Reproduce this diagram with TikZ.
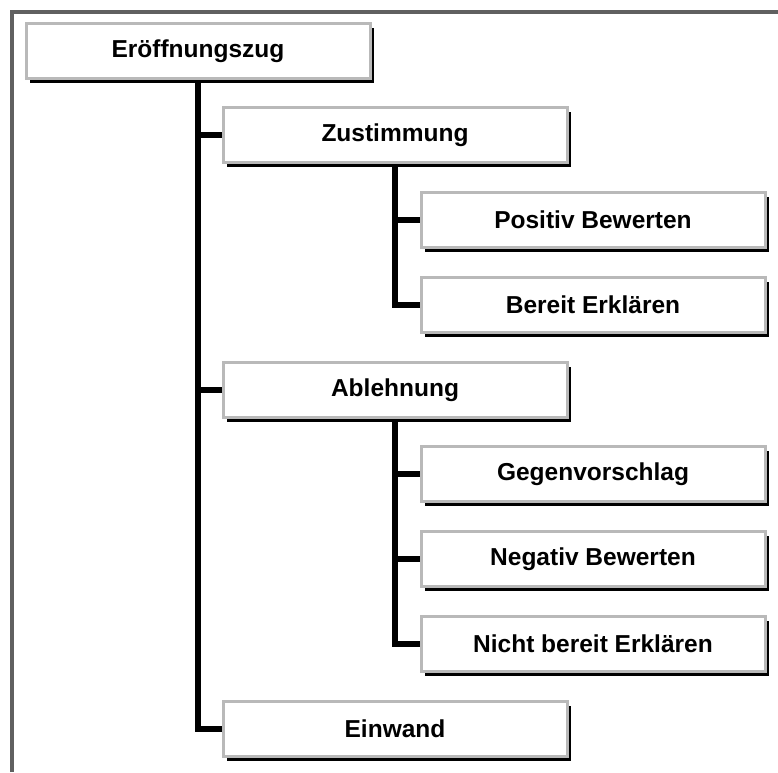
\documentclass[tikz,border=0pt]{standalone}
\usepackage{fontspec}
\setmainfont{Liberation Sans}
\usetikzlibrary{shadows}

\begin{document}
\begin{tikzpicture}[x=1pt,y=-1pt,
        zug/.style={rectangle,draw=gray!55,line width=3pt,fill=white,
            minimum width=344pt,minimum height=55pt,inner sep=0pt,
            font=\fontsize{24.5}{29}\selectfont\bfseries,
            drop shadow={shadow xshift=4pt,shadow yshift=-4pt,fill=black,opacity=1}},
        ast/.style={line width=6pt,black}]
        \useasboundingbox (0,0) rectangle (778,772);
        \draw[line width=4pt,gray!75!black] (12,772) -- (12,12) -- (778,12);
        % Ebene 1
        \node[zug] (eroeff) at (198,51) {Eröffnungszug};
        % Ebene 2
        \node[zug] (zust) at (395,135) {Zustimmung};
        \node[zug] (ableh) at (395,390) {Ablehnung};
        \node[zug] (einw) at (395,729) {Einwand};
        % Ebene 3
        \node[zug] (posbew) at (593,220) {Positiv Bewerten};
        \node[zug] (bereit) at (593,305) {Bereit Erklären};
        \node[zug] (gegen) at (593,474) {Gegenvorschlag};
        \node[zug] (negbew) at (593,559) {Negativ Bewerten};
        \node[zug] (nicht) at (593,644) {Nicht bereit Erklären};
        % Verbindungen
        \draw[ast] (eroeff.south) -- (eroeff.south |- einw.west) -- (einw.west);
        \draw[ast] (eroeff.south |- zust.west) -- (zust.west);
        \draw[ast] (eroeff.south |- ableh.west) -- (ableh.west);
        \draw[ast] (zust.south) -- (zust.south |- bereit.west) -- (bereit.west);
        \draw[ast] (zust.south |- posbew.west) -- (posbew.west);
        \draw[ast] (ableh.south) -- (ableh.south |- nicht.west) -- (nicht.west);
        \draw[ast] (ableh.south |- gegen.west) -- (gegen.west);
        \draw[ast] (ableh.south |- negbew.west) -- (negbew.west);
\end{tikzpicture}
\end{document}
